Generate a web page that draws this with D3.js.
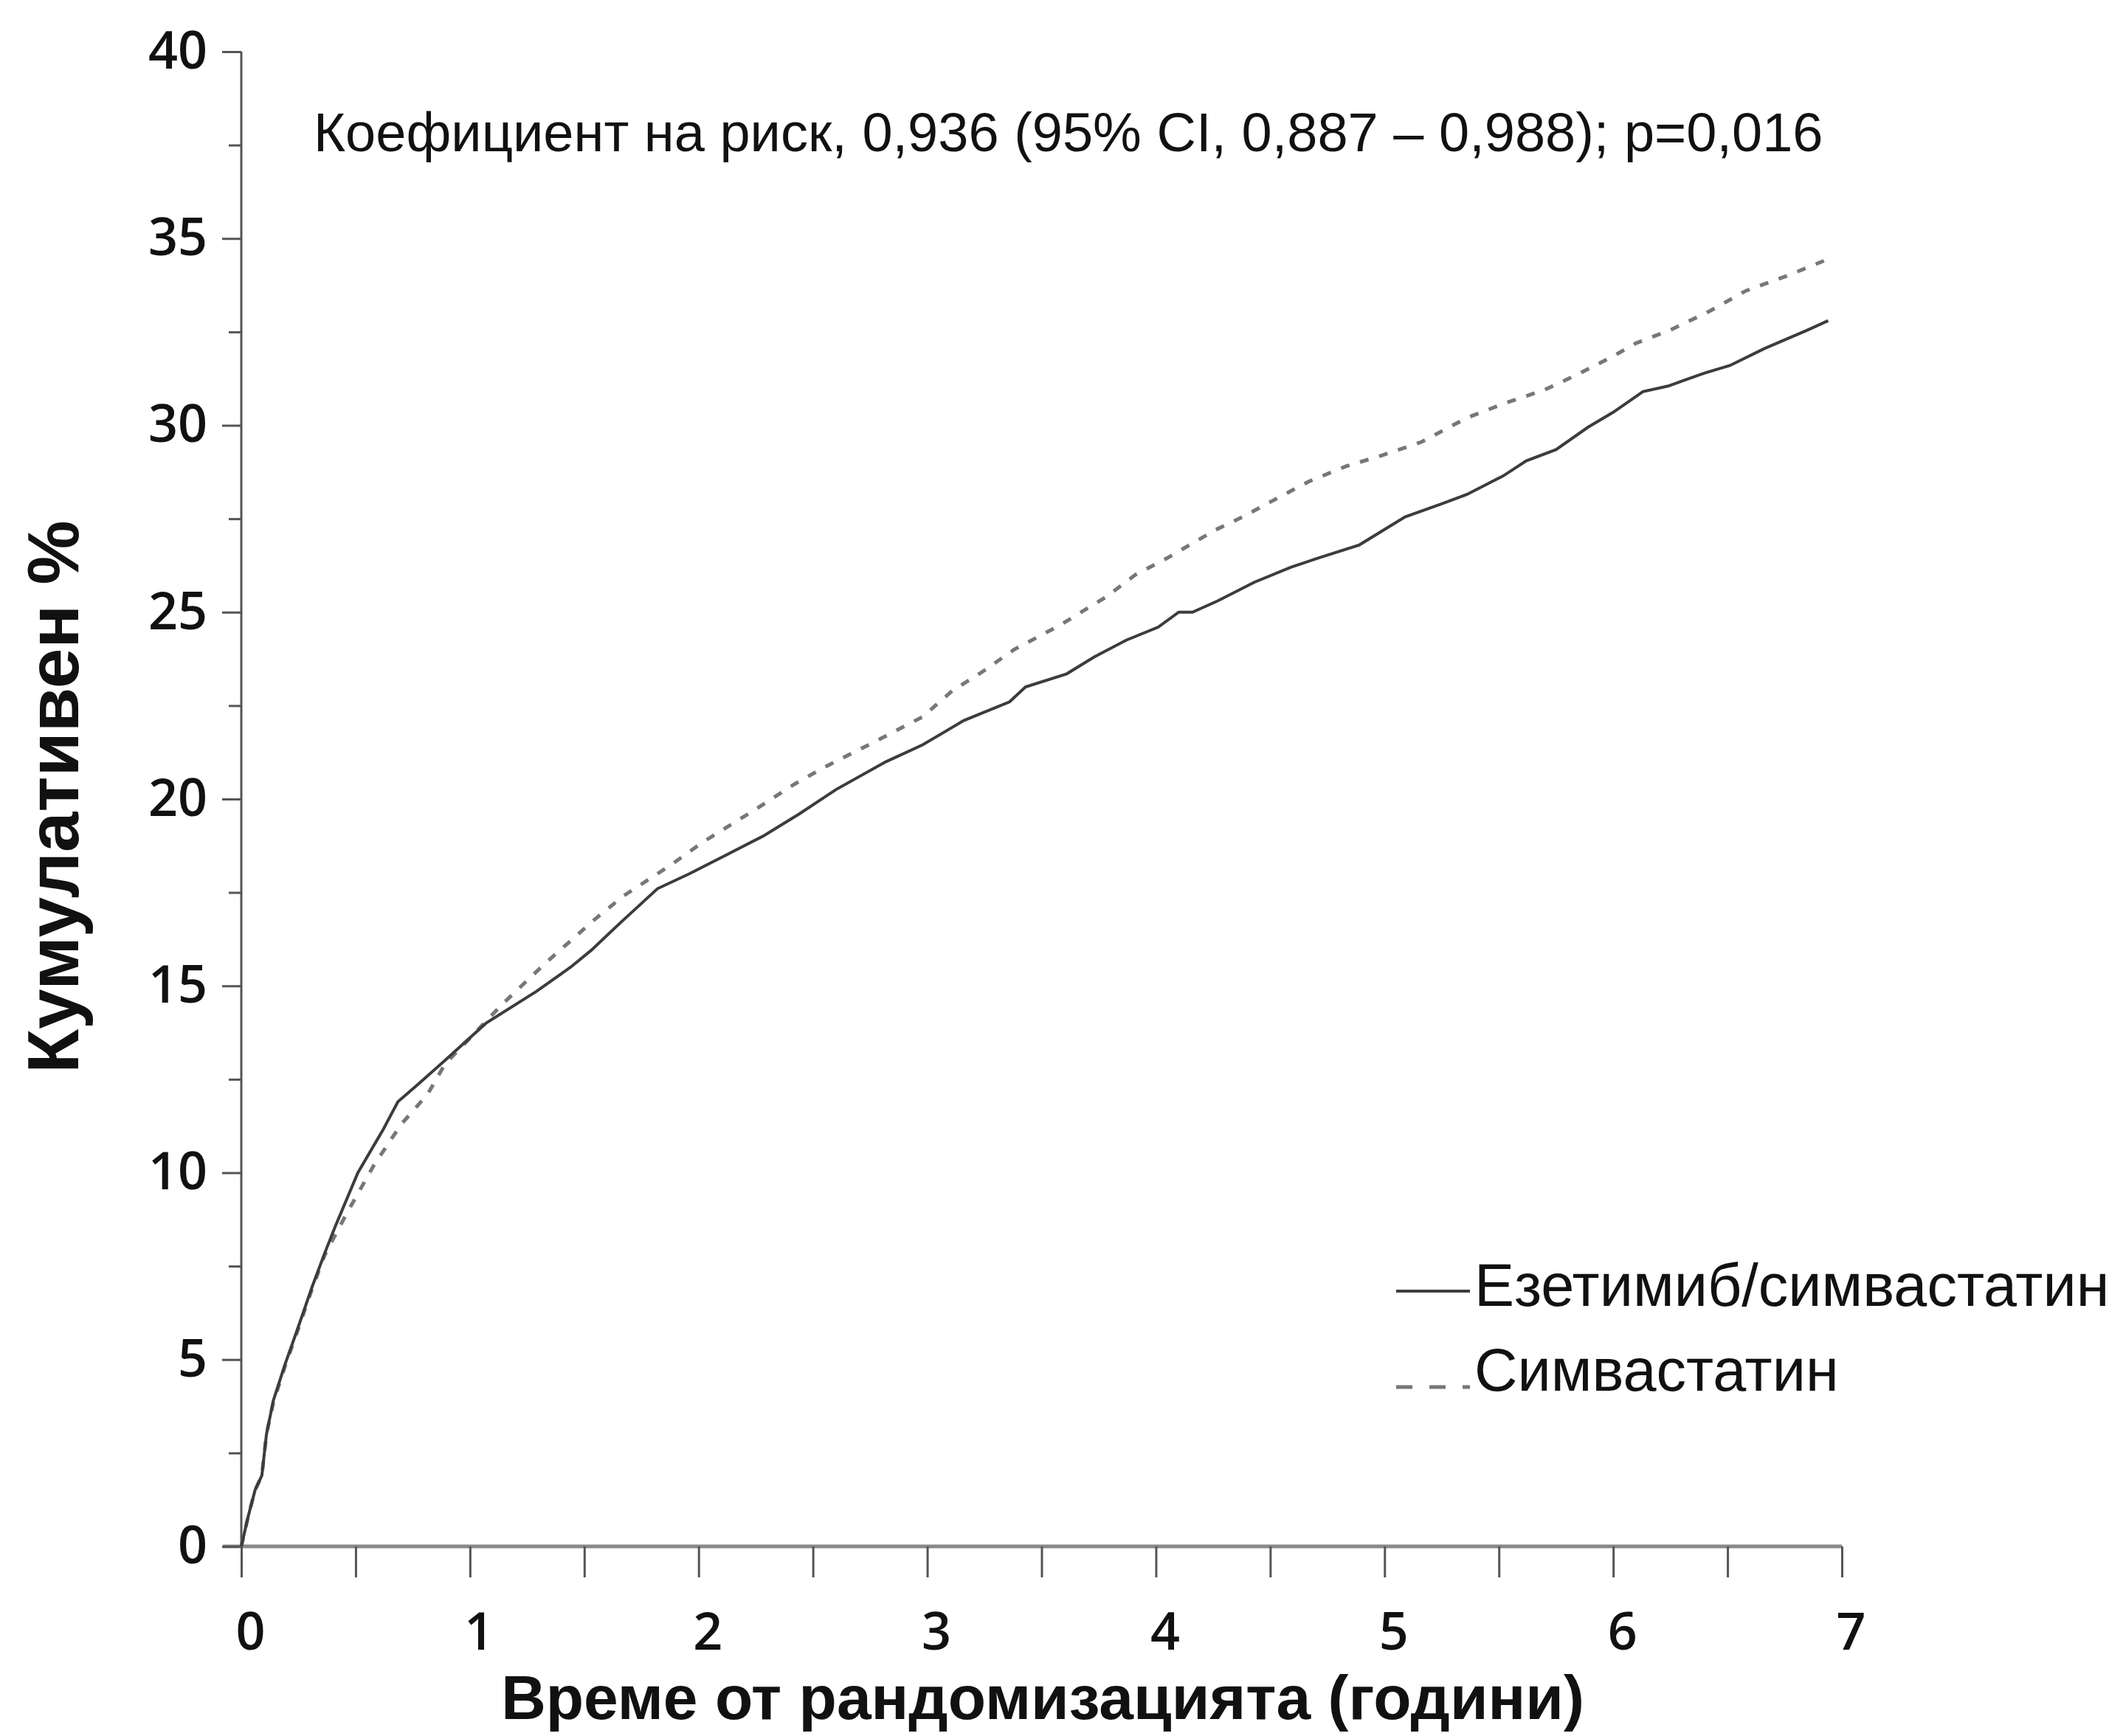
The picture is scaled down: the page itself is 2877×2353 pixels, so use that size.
<!DOCTYPE html>
<html>
<head>
<meta charset="utf-8">
<script src="https://cdn.jsdelivr.net/npm/d3@7"></script>
<style>
  html, body { margin: 0; padding: 0; background: #fff; }
  svg { display: block; }
  .tick text { font-family: 'Open Sans', sans-serif; font-weight: 600; }
</style>
</head>
<body>
<div id="chart"></div>
<script>
// values (years since randomisation, cumulative %)
const ezeYears = [0, 0.03, 0.06, 0.09, 0.11, 0.14, 0.19, 0.245, 0.31, 0.365, 0.41, 0.51, 0.62, 0.685, 0.77, 0.89,
  1.07, 1.29, 1.44, 1.53, 1.66, 1.82, 1.96, 2.12, 2.28, 2.44, 2.6, 2.82, 2.98, 3.16, 3.36, 3.43, 3.61, 3.73, 3.87,
  4.01, 4.1, 4.16, 4.27, 4.43, 4.59, 4.71, 4.89, 5.09, 5.25, 5.36, 5.52, 5.62, 5.75, 5.89, 6.0, 6.13, 6.24, 6.4,
  6.51, 6.66, 6.85, 6.94];
const ezeValues = [0, 0.8, 1.5, 1.9, 3.0, 3.9, 4.85, 5.8, 6.95, 7.85, 8.55, 10.0, 11.15, 11.9, 12.35, 13.0,
  14.0, 14.85, 15.5, 15.95, 16.7, 17.6, 18.0, 18.5, 19.0, 19.6, 20.25, 21.0, 21.45, 22.1, 22.6, 23.0, 23.35, 23.8, 24.25,
  24.6, 25.0, 25.0, 25.3, 25.8, 26.2, 26.45, 26.8, 27.55, 27.9, 28.15, 28.65, 29.05, 29.35, 29.95, 30.35, 30.9, 31.05, 31.4,
  31.6, 32.05, 32.55, 32.8];

const simYears = [0, 0.03, 0.06, 0.09, 0.11, 0.14, 0.19, 0.245, 0.31, 0.365, 0.46, 0.58, 0.7, 0.815, 0.89, 1.0,
  1.14, 1.32, 1.54, 1.67, 1.87, 2.02, 2.23, 2.42, 2.55, 2.76, 2.98, 3.11, 3.24, 3.38, 3.58, 3.78, 3.91, 4.05, 4.26,
  4.38, 4.5, 4.67, 4.83, 4.99, 5.16, 5.36, 5.53, 5.7, 5.84, 6.0, 6.1, 6.25, 6.42, 6.58, 6.76, 6.94];
const simValues = [0, 0.8, 1.5, 1.9, 3.0, 3.85, 4.8, 5.75, 6.9, 7.8, 8.9, 10.2, 11.3, 12.1, 12.9, 13.6,
  14.5, 15.55, 16.75, 17.4, 18.2, 18.85, 19.65, 20.4, 20.85, 21.5, 22.2, 22.9, 23.4, 24.0, 24.65, 25.4, 26.0, 26.45, 27.2,
  27.55, 27.95, 28.5, 28.9, 29.2, 29.55, 30.2, 30.6, 30.95, 31.35, 31.85, 32.2, 32.55, 33.05, 33.6, 34.0, 34.45];

const xTicks = [0, 1, 2, 3, 4, 5, 6, 7];
const xMinorTicks = [0.5, 1.5, 2.5, 3.5, 4.5, 5.5, 6.5];
const yTicks = [0, 5, 10, 15, 20, 25, 30, 35, 40];
const yMinorTicks = [2.5, 7.5, 12.5, 17.5, 22.5, 27.5, 32.5, 37.5];

const seriesNames = ['Езетимиб/симвастатин', 'Симвастатин'];
const titleText = 'Коефициент на риск, 0,936 (95% CI, 0,887 – 0,988); p=0,016';
const xTitle = 'Време от рандомизацията (години)';
const yTitle = 'Кумулативен %';

const W = 2877;
const H = 2353;
const margin = {
  top: 70,
  right: 381,
  bottom: 257,
  left: 327,
};
const width = W - margin.left - margin.right;
const height = H - margin.top - margin.bottom;

const svg = d3.select('#chart')
  .append('svg')
  .attr('width', W)
  .attr('height', H);

const g = svg.append('g').attr('transform', `translate(${margin.left},${margin.top})`);

const x = d3.scaleLinear().domain([0, 7]).range([0, width]);
const y = d3.scaleLinear().domain([0, 40]).range([height, 0]);

// x axis: long ticks at every half year, labels on whole years
const xAxis = g.append('g')
  .attr('transform', `translate(0,${height})`)
  .call(d3.axisBottom(x).tickValues(xTicks).tickSize(42).tickPadding(48).tickFormat(d3.format('d')));
g.append('g')
  .attr('transform', `translate(0,${height})`)
  .call(d3.axisBottom(x).tickValues(xMinorTicks).tickSize(42).tickFormat(''))
  .call(a => a.select('.domain').remove());

xAxis.select('.domain')
  .attr('d', `M-25,0H${width}`)
  .attr('stroke', '#888')
  .attr('stroke-width', 5);
xAxis.selectAll('.tick text')
  .attr('dx', 12)
  .style('font-size', '70px')
  .attr('fill', '#111');

const yAxis = g.append('g')
  .call(d3.axisLeft(y).tickValues(yTicks).tickSize(26).tickPadding(20));
g.append('g')
  .call(d3.axisLeft(y).tickValues(yMinorTicks).tickSize(17).tickFormat(''))
  .call(a => a.select('.domain').remove());

yAxis.select('.domain')
  .attr('d', `M0,0V${height}`)
  .attr('stroke', '#555')
  .attr('stroke-width', 3);
yAxis.selectAll('.tick text')
  .style('font-size', '70px')
  .attr('fill', '#111');

g.selectAll('.tick line')
  .attr('stroke', '#555')
  .attr('stroke-width', 3);

const line = d3.line()
  .x(d => x(d[0]))
  .y(d => y(d[1]));

const ezePoints = ezeYears.map((t, i) => [t, ezeValues[i]]);
const simPoints = simYears.map((t, i) => [t, simValues[i]]);

g.append('path')
  .datum(simPoints)
  .attr('d', line)
  .attr('fill', 'none')
  .attr('stroke', '#777')
  .attr('stroke-width', 5)
  .attr('stroke-dasharray', '12 15');

g.append('path')
  .datum(ezePoints)
  .attr('d', line)
  .attr('fill', 'none')
  .attr('stroke', '#3c3c3c')
  .attr('stroke-width', 4);

// hazard ratio text
svg.append('text')
  .attr('x', 425)
  .attr('y', 205)
  .style('font-family', 'Liberation Sans, Arial, sans-serif')
  .style('font-size', '74px')
  .attr('fill', '#111')
  .text(titleText);

// legend
const legend = svg.append('g').attr('transform', 'translate(1892,0)');
legend.append('line')
  .attr('x1', 0).attr('x2', 100)
  .attr('y1', 1750).attr('y2', 1750)
  .attr('stroke', '#3c3c3c')
  .attr('stroke-width', 4);
legend.append('line')
  .attr('x1', 0).attr('x2', 100)
  .attr('y1', 1880).attr('y2', 1880)
  .attr('stroke', '#777')
  .attr('stroke-width', 5)
  .attr('stroke-dasharray', '22 23');
legend.selectAll('text.leg')
  .data(seriesNames)
  .enter()
  .append('text')
  .attr('class', 'leg')
  .attr('x', 106)
  .attr('y', (d, i) => 1770 + i * 115)
  .style('font-family', 'Liberation Sans, Arial, sans-serif')
  .style('font-size', '81px')
  .attr('fill', '#111')
  .text(d => d);

// axis titles
svg.append('text')
  .attr('x', 1413)
  .attr('y', 2330)
  .style('text-anchor', 'middle')
  .style('font-family', 'Liberation Sans, Arial, sans-serif')
  .style('font-weight', 'bold')
  .style('font-size', '84px')
  .attr('fill', '#111')
  .text(xTitle);

svg.append('text')
  .attr('transform', 'translate(106,1080) rotate(-90)')
  .style('text-anchor', 'middle')
  .style('font-family', 'Liberation Sans, Arial, sans-serif')
  .style('font-weight', 'bold')
  .style('font-size', '98px')
  .attr('fill', '#111')
  .text(yTitle);
</script>
</body>
</html>
